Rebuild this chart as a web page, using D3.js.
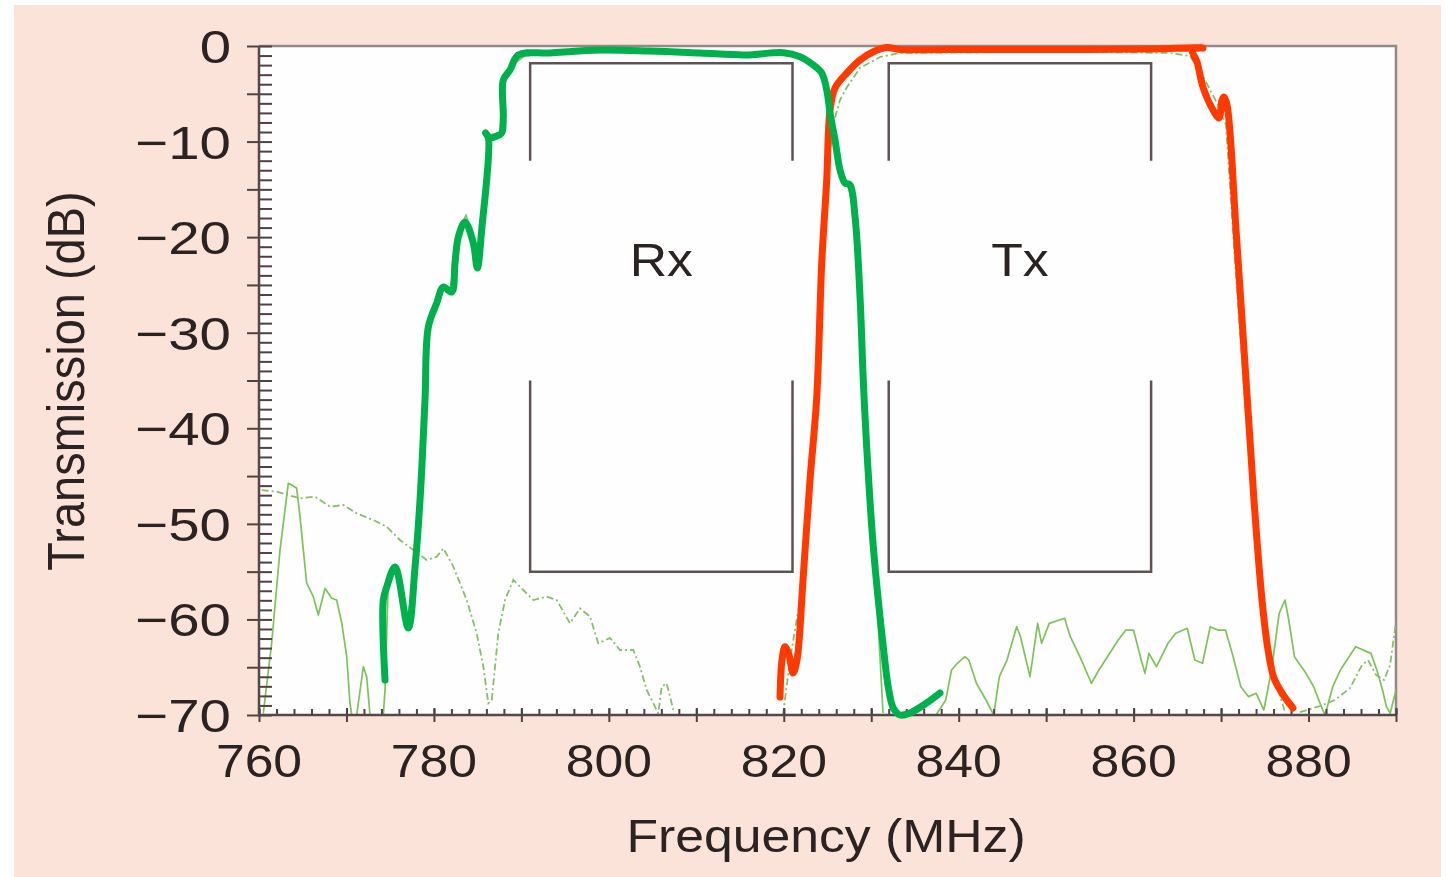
<!DOCTYPE html>
<html>
<head>
<meta charset="utf-8">
<script src="https://cdn.jsdelivr.net/npm/d3@7"></script>
<style>
  html, body { margin: 0; padding: 0; background: #ffffff; }
  svg { display: block; }
  text { font-family: "Liberation Sans", Arial, Helvetica, sans-serif; fill: #2b2222; }
</style>
</head>
<body>
<svg id="chart" width="1455" height="877"></svg>
<script>
// axis ranges and tick labels
var freqDomain = [760, 890];
var dbDomain = [-70, 0];
var freqLabels = [760, 780, 800, 820, 840, 860, 880];
var dbLabels = [0, -10, -20, -30, -40, -50, -60, -70];

// spec masks (MHz / dB)
var rxBand = [791, 821];
var txBand = [832, 862];
var maskTop = -1.8, maskTopEnd = -12, maskLowStart = -35, maskLow = -55;
var bandLabels = [{ name: "Rx", f: 806, db: -22.4 }, { name: "Tx", f: 847, db: -22.4 }];

// hand drawn Rx curve (thick green)
var rxThick = [
  [774.41, -66.34], [774.21, -57.97], [774.60, -56.61], [775.55, -54.51], [777.07, -60.90],
  [777.84, -54.51], [778.41, -47.50], [778.98, -37.04], [779.36, -29.40], [780.32, -26.89],
  [781.07, -25.22], [782.03, -25.74], [782.41, -22.71], [782.79, -19.99], [783.55, -18.42],
  [784.50, -20.61], [784.96, -23.23], [785.46, -19.25], [786.22, -9.52], [785.90, -9.10],
  [786.41, -9.63], [787.21, -9.42], [787.75, -9.10], [787.93, -7.43], [787.93, -3.56],
  [788.70, -2.51], [789.65, -0.94], [793.27, -0.73], [798.99, -0.42], [804.71, -0.52],
  [810.42, -0.73], [815.57, -0.94], [819.95, -0.70], [821.86, -1.12], [823.38, -1.99],
  [824.34, -2.83], [824.91, -4.60], [825.29, -7.01], [825.86, -9.84], [826.43, -12.97],
  [827.00, -14.33], [827.57, -14.54], [828.15, -17.89], [828.72, -26.26], [829.09, -34.95],
  [829.48, -41.96], [830.24, -52.42], [831.38, -62.88], [831.95, -67.07], [832.52, -69.27],
  [833.29, -70.00], [834.43, -69.79], [836.34, -68.74], [837.86, -67.70]
];

// hand drawn Tx curve (thick red)
var txThick = [
  [819.57, -68.12], [819.80, -64.25], [820.14, -62.85], [820.60, -63.72], [821.06, -65.61],
  [821.51, -64.25], [822.20, -55.87], [823.00, -45.41], [823.77, -36.73], [824.34, -22.71],
  [824.91, -14.02], [825.29, -6.70], [825.86, -4.39], [827.20, -2.83], [828.72, -1.46],
  [830.24, -0.60], [831.77, -0.16], [833.29, -0.37], [839.01, -0.37], [850.44, -0.37],
  [861.87, -0.31], [867.93, -0.21], [866.68, -0.37], [867.25, -1.67], [867.93, -4.29],
  [869.08, -6.70], [869.76, -7.53], [870.11, -5.65], [870.33, -5.34], [870.68, -6.17],
  [871.71, -19.25], [872.85, -34.95], [873.76, -47.50], [874.68, -57.97], [875.37, -63.20],
  [876.05, -66.13], [876.97, -67.70], [878.22, -69.27]
];

// measured Rx filter (thin solid), null = gap below -70 dB
var rxMeasured = [
  [760.49, -69.82], [761.45, -62.47], [762.40, -52.74], [763.35, -45.76], [763.74, -45.93],
  [764.31, -46.28], [764.69, -49.25], [765.07, -52.74], [765.45, -56.19], [766.21, -57.62],
  [766.78, -59.54], [767.55, -56.74], [768.31, -57.79], [768.88, -57.97], [769.46, -60.37],
  [770.03, -63.90], [770.40, -68.74], [770.60, -70], [770.9, null],
  [771.17, -70], [771.93, -64.95], [772.31, -65.99], [772.69, -70], [773.0, null],
  [774.21, -70], [774.41, -67.38], [774.75, -56.92], [775.55, -54.83], [776.92, -60.58],
  [777.84, -54.51], [779.32, -28.67], [780.70, -25.53], [781.84, -25.53], [782.75, -19.78],
  [783.67, -17.68], [784.58, -20.82], [785.04, -22.91], [785.50, -19.04], [786.18, -9.31],
  [787.56, -9.10], [787.90, -4.08], [788.93, -1.99], [790.99, -0.63], [798.99, -0.42],
  [810.42, -0.73], [820.71, -0.73], [823.23, -1.78], [824.37, -2.72], [825.06, -5.13],
  [825.74, -9.31], [826.43, -12.77], [827.34, -14.54], [828.14, -17.68], [828.94, -29.72],
  [829.86, -47.50], [830.77, -60.06], [831.35, -69.79], [832.0, null],
  [837.41, -70], [838.52, -68.43], [839.18, -65.29], [839.84, -64.59], [840.72, -63.90],
  [841.16, -64.25], [842.03, -66.68], [843.12, -68.43], [844.00, -70], [844.65, -65.99],
  [845.52, -64.25], [846.63, -60.76], [847.07, -61.81], [848.15, -65.99], [849.03, -60.41],
  [849.48, -62.50], [850.35, -60.41], [852.11, -59.88], [852.76, -61.81], [853.86, -63.90],
  [855.17, -66.68], [856.04, -65.29], [858.24, -62.15], [859.12, -61.11], [859.99, -61.11],
  [860.87, -64.25], [861.30, -65.64], [861.75, -63.55], [862.62, -64.95], [863.93, -62.50],
  [864.81, -61.45], [866.13, -60.93], [867.00, -64.25], [867.88, -64.59], [868.76, -60.76],
  [869.63, -61.11], [870.51, -61.11], [871.38, -63.90], [872.26, -67.04], [873.14, -68.08],
  [874.01, -67.73], [874.89, -69.48], [875.77, -65.29], [876.64, -59.36], [877.31, -57.97],
  [877.74, -60.06], [878.39, -63.90], [879.71, -65.64], [880.59, -67.04], [881.47, -69.13],
  [881.89, -70], [882.77, -67.04], [883.64, -65.29], [885.39, -62.85], [887.14, -63.55],
  [887.81, -65.29], [888.46, -67.38], [888.90, -69.13], [889.34, -69.82], [890.0, -67.38]
];

// measured Tx filter (thin dash-dot)
var txMeasured = [
  [760.31, -46.46], [762.02, -46.64], [764.69, -47.33], [766.40, -47.16], [768.12, -48.20],
  [769.64, -48.03], [771.17, -48.90], [773.07, -49.60], [774.60, -50.30], [776.12, -51.69],
  [777.64, -52.74], [779.17, -53.78], [780.32, -53.44], [781.07, -52.56], [782.22, -54.48],
  [783.75, -57.97], [784.89, -61.45], [785.65, -64.95], [786.22, -68.78], [786.61, -68.43],
  [787.36, -61.45], [788.13, -57.97], [789.08, -55.87], [790.22, -56.92], [791.36, -57.97],
  [792.89, -57.62], [794.04, -57.97], [795.56, -60.41], [796.70, -58.84], [797.85, -59.71],
  [798.79, -62.50], [800.13, -61.94], [801.28, -63.20], [802.80, -63.20], [803.56, -64.95],
  [804.33, -67.38], [804.90, -68.43], [805.65, -69.82], [806.04, -67.04], [806.61, -66.68],
  [806.99, -68.08], [807.37, -69.48], [808.0, null],
  [819.91, -70], [820.71, -64.25], [821.86, -57.97], [822.77, -45.41], [823.57, -37.04],
  [824.37, -23.44], [825.06, -12.97], [825.63, -8.27], [826.43, -5.65], [827.23, -4.29],
  [828.72, -2.30], [831.00, -1.15], [833.29, -0.73], [844.72, -0.63], [856.16, -0.63],
  [864.16, -0.73], [866.45, -1.05], [868.16, -3.56], [869.65, -6.17], [870.56, -8.27],
  [871.59, -22.39], [872.73, -37.04], [873.88, -50.64], [874.79, -57.97], [875.59, -63.20],
  [876.51, -67.38], [877.31, -69.69], [878.0, null],
  [879.03, -69.69], [881.32, -69.06], [883.03, -68.43], [884.75, -67.17], [886.12, -64.77],
  [886.80, -64.25], [887.72, -65.81], [888.63, -66.34], [889.32, -64.77], [890.0, -60.27]
];

var svg = d3.select("#chart");
var sx = 1.1; // the reference is stretched a bit horizontally

var x = d3.scaleLinear().domain(freqDomain).range([259, 1396]);
var y = d3.scaleLinear().domain(dbDomain).range([715, 46]);

// background
svg.append("rect").attr("x", 14).attr("y", 5).attr("width", 1427).attr("height", 872).attr("fill", "#fce3d9");
svg.append("rect")
  .attr("x", x(freqDomain[0])).attr("y", y(dbDomain[1]))
  .attr("width", x(freqDomain[1]) - x(freqDomain[0]))
  .attr("height", y(dbDomain[0]) - y(dbDomain[1]))
  .attr("fill", "#fefefe");

svg.append("clipPath").attr("id", "plotClip").append("rect")
  .attr("x", x(freqDomain[0])).attr("y", y(dbDomain[1]) - 6)
  .attr("width", x(freqDomain[1]) - x(freqDomain[0]))
  .attr("height", y(dbDomain[0]) - y(dbDomain[1]) + 6);

// top and right frame
svg.append("path")
  .attr("d", "M" + x(freqDomain[0]) + "," + y(0) + "H" + x(freqDomain[1]) + "V" + y(-70))
  .attr("fill", "none").attr("stroke", "#958987").attr("stroke-width", 2.5);

// mask brackets
function maskPath(band) {
  return "M" + x(band[0]) + "," + y(maskTopEnd) + "V" + y(maskTop) + "H" + x(band[1]) + "V" + y(maskTopEnd) +
    "M" + x(band[0]) + "," + y(maskLowStart) + "V" + y(maskLow) + "H" + x(band[1]) + "V" + y(maskLowStart);
}
[rxBand, txBand].forEach(function(b) {
  svg.append("path").attr("d", maskPath(b))
    .attr("fill", "none").attr("stroke", "#5e5352").attr("stroke-width", 2.5);
});

svg.selectAll(".band-label").data(bandLabels).enter().append("text")
  .attr("class", "band-label")
  .attr("transform", function(d) { return "translate(" + x(d.f) + "," + (y(d.db) + 16) + ") scale(" + sx + ",1)"; })
  .attr("text-anchor", "middle")
  .style("font-size", "47px")
  .text(function(d) { return d.name; });

// curves
var thinLine = d3.line()
  .defined(function(d) { return d[1] !== null; })
  .x(function(d) { return x(d[0]); })
  .y(function(d) { return y(d[1]); });

var thickLine = d3.line()
  .curve(d3.curveCatmullRom.alpha(0.5))
  .x(function(d) { return x(d[0]); })
  .y(function(d) { return y(d[1]); });

var plot = svg.append("g").attr("clip-path", "url(#plotClip)");

plot.append("path").datum(txMeasured).attr("d", thinLine)
  .attr("fill", "none").attr("stroke", "#86bf68").attr("stroke-width", 1.8)
  .attr("stroke-dasharray", "7,3,2,3");
plot.append("path").datum(rxMeasured).attr("d", thinLine)
  .attr("fill", "none").attr("stroke", "#7cc35a").attr("stroke-width", 1.7)
  .attr("stroke-linejoin", "round");

// axes
var axisColor = "#4f4240";
function styleAxis(g) {
  g.select(".domain").remove();
  g.selectAll("line").attr("stroke", axisColor).attr("stroke-width", 2);
}

svg.append("g").attr("transform", "translate(" + x(760) + ",0)")
  .call(d3.axisLeft(y).tickValues(d3.range(-70, 1, 1)).tickSize(-13).tickSizeOuter(0).tickFormat(""))
  .call(styleAxis);
svg.append("g").attr("transform", "translate(" + x(760) + ",0)")
  .call(d3.axisLeft(y).tickValues(d3.range(-70, 1, 5)).tickSize(12).tickSizeOuter(0).tickFormat(""))
  .call(styleAxis);

svg.append("g").attr("transform", "translate(0," + y(-70) + ")")
  .call(d3.axisBottom(x).tickValues(d3.range(760, 891, 2)).tickSize(-6).tickSizeOuter(0).tickFormat(""))
  .call(styleAxis);
svg.append("g").attr("transform", "translate(0," + y(-70) + ")")
  .call(d3.axisBottom(x).tickValues(d3.range(760, 891, 10)).tickSize(7).tickSizeOuter(0).tickFormat(""))
  .call(styleAxis);
svg.append("g").attr("transform", "translate(0," + y(-70) + ")")
  .call(d3.axisBottom(x).tickValues(d3.range(760, 891, 10)).tickSize(-7).tickSizeOuter(0).tickFormat(""))
  .call(styleAxis);

// axis lines
svg.append("path")
  .attr("d", "M" + x(760) + "," + y(0) + "V" + y(-70) + "H" + x(890))
  .attr("fill", "none").attr("stroke", "#55484a").attr("stroke-width", 2.5);

// tick labels
var fmt = d3.format("d");
svg.selectAll(".ylab").data(dbLabels).enter().append("text")
  .attr("class", "ylab")
  .attr("transform", function(d) { return "translate(231," + (y(d) + 17) + ") scale(1.2,1)"; })
  .attr("text-anchor", "end")
  .style("font-size", "47px")
  .text(function(d) { return fmt(d); });

svg.selectAll(".xlab").data(freqLabels).enter().append("text")
  .attr("class", "xlab")
  .attr("transform", function(d) { return "translate(" + x(d) + ",777) scale(" + sx + ",1)"; })
  .attr("text-anchor", "middle")
  .style("font-size", "47px")
  .text(function(d) { return fmt(d); });

// axis titles
svg.append("text")
  .attr("transform", "translate(826,852) scale(" + sx + ",1)")
  .attr("text-anchor", "middle")
  .style("font-size", "47px")
  .text("Frequency (MHz)");

svg.append("text")
  .attr("transform", "translate(84,381) scale(" + sx + ",1) rotate(-90)")
  .attr("text-anchor", "middle")
  .style("font-size", "47px")
  .text("Transmission (dB)");

// thick hand drawn curves on top
svg.append("path").datum(txThick).attr("d", thickLine)
  .attr("fill", "none").attr("stroke", "#ff3a00").attr("stroke-width", 7)
  .attr("stroke-linecap", "round").attr("stroke-linejoin", "round");
svg.append("path").datum(rxThick).attr("d", thickLine)
  .attr("fill", "none").attr("stroke", "#00b04c").attr("stroke-width", 7)
  .attr("stroke-linecap", "round").attr("stroke-linejoin", "round");
</script>
</body>
</html>
